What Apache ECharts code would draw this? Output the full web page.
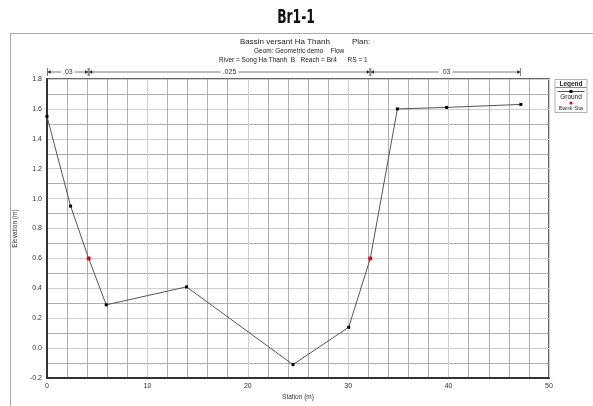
<!DOCTYPE html>
<html>
<head>
<meta charset="utf-8">
<script src="https://cdn.jsdelivr.net/npm/echarts@6/dist/echarts.min.js"></script>
<style>html,body{margin:0;padding:0;background:#fff}#c{width:593px;height:406px}</style>
</head>
<body>
<div id="c"></div>
<script>
// Ground profile (station m, elevation m)
const groundStation = [0, 2.35, 4.15, 5.9, 13.9, 24.5, 30.05, 32.2, 34.9, 39.8, 47.2];
const groundElev    = [1.55, 0.95, 0.6, 0.29, 0.41, -0.11, 0.14, 0.6, 1.6, 1.61, 1.63];
// Bank stations
const bankStation = [4.15, 32.2];
const bankElev    = [0.6, 0.6];
// Manning's n segments: start, end, label
const nStart = [0, 4.15, 32.2];
const nEnd   = [4.15, 32.2, 47.2];
const nLabel = ['.03', '.025', '.03'];
const xTicks = [0, 10, 20, 30, 40, 50];
const yTicks = [-0.2, 0.0, 0.2, 0.4, 0.6, 0.8, 1.0, 1.2, 1.4, 1.6, 1.8];

const chart = echarts.init(document.getElementById('c'), null, {renderer: 'canvas'});
const F = 'Liberation Sans, Arial, sans-serif';
const groundData = groundStation.map((s, i) => [s, groundElev[i]]);
const bankData = bankStation.map((s, i) => [s, bankElev[i]]);
const nData = nStart.map((s, i) => [s, nEnd[i]]);
const yTop = yTicks[yTicks.length - 1];

chart.setOption({
  animation: false,
  backgroundColor: '#fff',
  graphic: [
    {type: 'text', x: 296, y: 18, scaleX: 0.72, style: {text: 'Br1-1', font: 'bold 19px "DejaVu Sans Condensed", "DejaVu Sans", sans-serif', fill: '#111', align: 'center', verticalAlign: 'middle'}},
    {type: 'rect', shape: {x: 10.5, y: 33.5, width: 600, height: 400}, style: {fill: 'none', stroke: '#a8a8a8', lineWidth: 1}, silent: true},
    {type: 'text', x: 240, y: 38, style: {text: 'Bassin versant Ha Thanh', font: '8px ' + F, fill: '#222'}},
    {type: 'text', x: 352, y: 38, style: {text: 'Plan:', font: '8px ' + F, fill: '#222'}},
    {type: 'text', x: 254, y: 48, style: {text: 'Geom: Geometric demo    Flow', font: '6.5px ' + F, fill: '#222'}},
    {type: 'text', x: 219, y: 57, style: {text: 'River = Song Ha Thanh  B   Reach = Br4      RS = 1', font: '6.5px ' + F, fill: '#222'}},
    // legend box
    {type: 'group', left: 553, top: 79, children: [
      {type: 'rect', shape: {x: 0.5, y: 0.5, width: 32, height: 33}, style: {fill: '#fff', stroke: '#b0b0b0', lineWidth: 1}},
      {type: 'text', x: 16.5, y: 2, style: {text: 'Legend', font: 'bold 6.5px ' + F, fill: '#222', align: 'center'}},
      {type: 'line', shape: {x1: 1, y1: 8.5, x2: 32, y2: 8.5}, style: {stroke: '#888', lineWidth: 1}},
      {type: 'line', shape: {x1: 3, y1: 12.5, x2: 30, y2: 12.5}, style: {stroke: '#555', lineWidth: 1}},
      {type: 'rect', shape: {x: 15, y: 11, width: 3, height: 3}, style: {fill: '#000'}},
      {type: 'text', x: 16.5, y: 15, style: {text: 'Ground', font: '6.5px ' + F, fill: '#222', align: 'center'}},
      {type: 'circle', shape: {cx: 16.5, cy: 24, r: 1.6}, style: {fill: '#ff0000'}},
      {type: 'text', x: 16.5, y: 26, style: {text: 'Bank Sta', font: '6px ' + F, fill: '#333', align: 'center'}}
    ]}
  ],
  grid: {left: 47, right: 44, top: 79, bottom: 23, show: true, borderColor: '#333', borderWidth: 1.5, backgroundColor: 'transparent'},
  xAxis: {
    type: 'value', min: xTicks[0], max: xTicks[xTicks.length - 1], interval: 10,
    name: 'Station (m)', nameLocation: 'middle', nameGap: 15,
    nameTextStyle: {fontFamily: F, fontSize: 6.5, color: '#333'},
    axisLine: {show: true, onZero: false, lineStyle: {color: '#333', width: 2}},
    axisTick: {show: false},
    axisLabel: {fontFamily: F, fontSize: 7, color: '#333', margin: 4},
    splitLine: {show: true, lineStyle: {color: '#cfcfcf', width: 1}},
    minorTick: {show: false, splitNumber: 5},
    minorSplitLine: {show: true, lineStyle: {color: '#9a9a9a', width: 0.8}}
  },
  yAxis: {
    type: 'value', min: yTicks[0], max: yTop, interval: 0.2,
    name: 'Elevation (m)', nameLocation: 'middle', nameGap: 26, nameRotate: 90,
    nameTextStyle: {fontFamily: F, fontSize: 6.5, color: '#333'},
    axisLine: {show: true, onZero: false, lineStyle: {color: '#333', width: 2}},
    axisTick: {show: false},
    axisLabel: {fontFamily: F, fontSize: 7, color: '#333', margin: 5, formatter: v => v.toFixed(1)},
    splitLine: {show: true, lineStyle: {color: '#cfcfcf', width: 1}},
    minorTick: {show: false, splitNumber: 2},
    minorSplitLine: {show: true, lineStyle: {color: '#9a9a9a', width: 0.8}}
  },
  series: [
    {
      name: 'Ground', type: 'line', data: groundData,
      lineStyle: {color: '#555', width: 1},
      symbol: 'rect', symbolSize: 3, itemStyle: {color: '#000'},
      z: 3
    },
    {
      name: 'Bank Sta', type: 'scatter', data: bankData,
      symbol: 'rect', symbolSize: 4, itemStyle: {color: '#ff1010'},
      z: 4
    },
    {
      name: 'n', type: 'custom', data: nData, clip: false, silent: true,
      encode: {x: [0, 1]},
      renderItem: function (params, api) {
        const p1 = api.coord([api.value(0), yTop]);
        const p2 = api.coord([api.value(1), yTop]);
        const y = p1[1] - 7;
        const x1 = p1[0] + 0.5, x2 = p2[0] - 0.5;
        const mid = (x1 + x2) / 2;
        const st = {stroke: '#555', lineWidth: 0.8};
        return {type: 'group', children: [
          {type: 'line', shape: {x1: x1, y1: y, x2: x2, y2: y}, style: st},
          {type: 'line', shape: {x1: x1, y1: y - 4, x2: x1, y2: y + 4}, style: st},
          {type: 'line', shape: {x1: x2, y1: y - 4, x2: x2, y2: y + 4}, style: st},
          {type: 'polyline', shape: {points: [[x1 + 3, y - 1.5], [x1 + 0.5, y], [x1 + 3, y + 1.5]]}, style: st},
          {type: 'polyline', shape: {points: [[x2 - 3, y - 1.5], [x2 - 0.5, y], [x2 - 3, y + 1.5]]}, style: st},
          {type: 'text', x: mid, y: y, style: {text: nLabel[params.dataIndex], font: '7px ' + F, fill: '#333', align: 'center', verticalAlign: 'middle', backgroundColor: '#fff', padding: [0, 2]}}
        ]};
      }
    }
  ]
});
</script>
</body>
</html>
